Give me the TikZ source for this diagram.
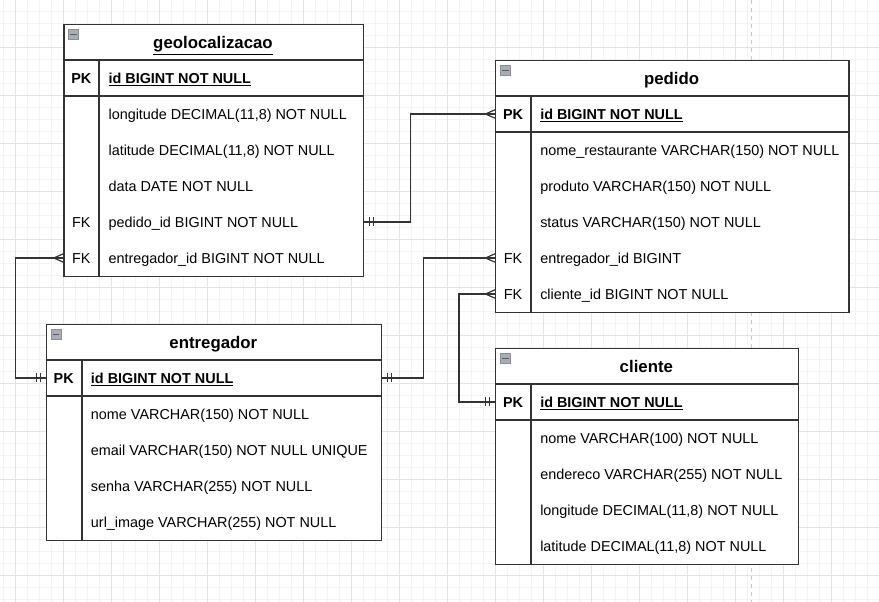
\documentclass[tikz,border=0pt]{standalone}
\usepackage{fontspec}
\setmainfont{Liberation Sans}
\usetikzlibrary{calc}
\definecolor{ln}{HTML}{333333}
\definecolor{gridminor}{HTML}{F3F3F3}
\definecolor{gridmajor}{HTML}{E4E4E4}
\definecolor{icfill}{HTML}{A9ADB6}
\definecolor{icbord}{HTML}{8A8E96}
\definecolor{pagebrk}{HTML}{C8C8C8}
\tikzset{
  tbl/.style={draw=ln, line width=0.9pt, fill=white, inner sep=0pt, anchor=north west},
  sepline/.style={draw=ln, line width=0.9pt},
  keyline/.style={draw=ln, line width=1.4pt},
  rowtxt/.style={inner sep=0pt, text height=10pt, text depth=1.75pt, font=\fontsize{10.8pt}{13pt}\selectfont},
  fld/.style={rowtxt, anchor=west},
  keytxt/.style={rowtxt},
  ttl/.style={inner sep=0pt, text height=12pt, text depth=2.25pt, font=\bfseries\fontsize{12.6pt}{15pt}\selectfont},
  icon/.style={draw=icbord, fill=icfill, line width=0.5pt, minimum size=7.5pt, inner sep=0pt, anchor=north west},
  iconbar/.style={draw=ln!80, line width=1pt},
  conn/.style={draw=ln, line width=0.9pt},
}
\newcommand\erone[2]{\draw[conn] ($(#1)+(#2*5.5,-4.5)$) -- ++(0,9) ($(#1)+(#2*9.5,-4.5)$) -- ++(0,9);}
\newcommand\ermany[2]{\draw[conn] ($(#1)+(#2*9.5,0)$) -- ($(#1)+(0,-4.2)$) ($(#1)+(#2*9.5,0)$) -- ($(#1)+(0,4.2)$);}
\begin{document}
\begin{tikzpicture}[x=0.75pt, y=-0.75pt]
\useasboundingbox (0,0) rectangle (879,602);
\fill[white] (0,0) rectangle (879,602);
% grid
\foreach \gx in {3.5,15.5,...,879} \draw[gridminor, line width=0.75pt] (\gx,0) -- (\gx,602);
\foreach \gy in {11.3,23.3,...,602} \draw[gridminor, line width=0.75pt] (0,\gy) -- (879,\gy);
\foreach \gx in {15.5,63.5,...,879} \draw[gridmajor, line width=0.75pt] (\gx,0) -- (\gx,602);
\foreach \gy in {-0.7,47.3,...,602} \draw[gridmajor, line width=0.75pt] (0,\gy) -- (879,\gy);
\draw[pagebrk, line width=0.75pt, dash pattern=on 3pt off 3pt] (751.7,0) -- (751.7,602);

% ---------- geolocalizacao ----------
\begin{scope}[shift={(63.3,24)}]
\node[tbl, minimum width=224.55pt, minimum height=189pt] (geo) at (0,0) {};
\draw[sepline] (0,36) -- (299.4,36);
\draw[keyline] (0,72) -- (299.4,72);
\draw[keyline] (36,36) -- (36,252);
\node[icon] (geo-ic) at (5,5) {};
\draw[iconbar] ($(geo-ic.west)+(2,0)$) -- ($(geo-ic.east)+(-2,0)$);
\node[ttl] (geo-t) at (149.7,18) {\underline{geolocalizacao}};
\node[keytxt, font=\bfseries\fontsize{10.8pt}{13pt}\selectfont] (geo-pkk) at (18,54) {PK};
\node[fld, font=\bfseries\fontsize{10.8pt}{13pt}\selectfont] (geo-pk) at (45,54) {\underline{id BIGINT NOT NULL}};
\node[fld] (geo-r1) at (45,90) {longitude DECIMAL(11,8) NOT NULL};
\node[fld] (geo-r2) at (45,126) {latitude DECIMAL(11,8) NOT NULL};
\node[fld] (geo-r3) at (45,162) {data DATE NOT NULL};
\node[keytxt] (geo-k4) at (18,198) {FK};
\node[fld] (geo-r4) at (45,198) {pedido\_id BIGINT NOT NULL};
\node[keytxt] (geo-k5) at (18,234) {FK};
\node[fld] (geo-r5) at (45,234) {entregador\_id BIGINT NOT NULL};
\end{scope}

% ---------- pedido ----------
\begin{scope}[shift={(495,60)}]
\node[tbl, minimum width=264.975pt, minimum height=189pt] (ped) at (0,0) {};
\draw[sepline] (0,36) -- (353.3,36);
\draw[keyline] (0,72) -- (353.3,72);
\draw[keyline] (36,36) -- (36,252);
\node[icon] (ped-ic) at (5,5) {};
\draw[iconbar] ($(ped-ic.west)+(2,0)$) -- ($(ped-ic.east)+(-2,0)$);
\node[ttl] (ped-t) at (176.65,18) {pedido};
\node[keytxt, font=\bfseries\fontsize{10.8pt}{13pt}\selectfont] (ped-pkk) at (18,54) {PK};
\node[fld, font=\bfseries\fontsize{10.8pt}{13pt}\selectfont] (ped-pk) at (45,54) {\underline{id BIGINT NOT NULL}};
\node[fld] (ped-r1) at (45,90) {nome\_restaurante VARCHAR(150) NOT NULL};
\node[fld] (ped-r2) at (45,126) {produto VARCHAR(150) NOT NULL};
\node[fld] (ped-r3) at (45,162) {status VARCHAR(150) NOT NULL};
\node[keytxt] (ped-k4) at (18,198) {FK};
\node[fld] (ped-r4) at (45,198) {entregador\_id BIGINT};
\node[keytxt] (ped-k5) at (18,234) {FK};
\node[fld] (ped-r5) at (45,234) {cliente\_id BIGINT NOT NULL};
\end{scope}

% ---------- entregador ----------
\begin{scope}[shift={(45.7,324)}]
\node[tbl, minimum width=251.475pt, minimum height=162pt] (ent) at (0,0) {};
\draw[sepline] (0,36) -- (335.3,36);
\draw[keyline] (0,72) -- (335.3,72);
\draw[keyline] (36,36) -- (36,216);
\node[icon] (ent-ic) at (5,5) {};
\draw[iconbar] ($(ent-ic.west)+(2,0)$) -- ($(ent-ic.east)+(-2,0)$);
\node[ttl] (ent-t) at (167.65,18) {entregador};
\node[keytxt, font=\bfseries\fontsize{10.8pt}{13pt}\selectfont] (ent-pkk) at (18,54) {PK};
\node[fld, font=\bfseries\fontsize{10.8pt}{13pt}\selectfont] (ent-pk) at (45,54) {\underline{id BIGINT NOT NULL}};
\node[fld] (ent-r1) at (45,90) {nome VARCHAR(150) NOT NULL};
\node[fld] (ent-r2) at (45,126) {email VARCHAR(150) NOT NULL UNIQUE};
\node[fld] (ent-r3) at (45,162) {senha VARCHAR(255) NOT NULL};
\node[fld] (ent-r4) at (45,198) {url\_image VARCHAR(255) NOT NULL};
\end{scope}

% ---------- cliente ----------
\begin{scope}[shift={(495,348)}]
\node[tbl, minimum width=227.025pt, minimum height=162pt] (cli) at (0,0) {};
\draw[sepline] (0,36) -- (302.7,36);
\draw[keyline] (0,72) -- (302.7,72);
\draw[keyline] (36,36) -- (36,216);
\node[icon] (cli-ic) at (5,5) {};
\draw[iconbar] ($(cli-ic.west)+(2,0)$) -- ($(cli-ic.east)+(-2,0)$);
\node[ttl] (cli-t) at (151.35,18) {cliente};
\node[keytxt, font=\bfseries\fontsize{10.8pt}{13pt}\selectfont] (cli-pkk) at (18,54) {PK};
\node[fld, font=\bfseries\fontsize{10.8pt}{13pt}\selectfont] (cli-pk) at (45,54) {\underline{id BIGINT NOT NULL}};
\node[fld] (cli-r1) at (45,90) {nome VARCHAR(100) NOT NULL};
\node[fld] (cli-r2) at (45,126) {endereco VARCHAR(255) NOT NULL};
\node[fld] (cli-r3) at (45,162) {longitude DECIMAL(11,8) NOT NULL};
\node[fld] (cli-r4) at (45,198) {latitude DECIMAL(11,8) NOT NULL};
\end{scope}

% ---------- connectors ----------
\coordinate (bx1) at (410.7,0);
\coordinate (bx2) at (15.7,0);
\coordinate (bx3) at (423.3,0);
\coordinate (bx4) at (459,0);

\coordinate (g-ped) at (geo.east |- geo-r4);
\coordinate (p-pk) at (ped.west |- ped-pk);
\draw[conn] (g-ped) -- (g-ped -| bx1) |- (p-pk);
\erone{g-ped}{1}
\ermany{p-pk}{-1}

\coordinate (g-ent) at (geo.west |- geo-r5);
\coordinate (e-pk) at (ent.west |- ent-pk);
\draw[conn] (g-ent) -- (g-ent -| bx2) |- (e-pk);
\ermany{g-ent}{-1}
\erone{e-pk}{-1}

\coordinate (e-pk2) at (ent.east |- ent-pk);
\coordinate (p-ent) at (ped.west |- ped-r4);
\draw[conn] (e-pk2) -- (e-pk2 -| bx3) |- (p-ent);
\erone{e-pk2}{1}
\ermany{p-ent}{-1}

\coordinate (c-pk) at (cli.west |- cli-pk);
\coordinate (p-cli) at (ped.west |- ped-r5);
\draw[conn] (c-pk) -- (c-pk -| bx4) |- (p-cli);
\erone{c-pk}{-1}
\ermany{p-cli}{-1}
\end{tikzpicture}
\end{document}
